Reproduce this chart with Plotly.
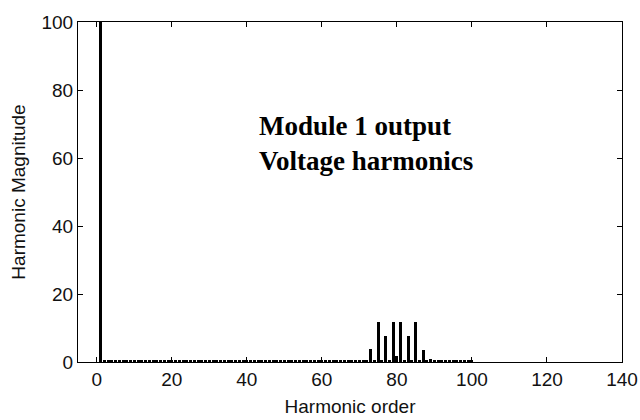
import plotly.graph_objects as go

# Harmonic orders 1..100
harmonic_order = list(range(1, 101))

# Magnitudes (% of fundamental)
magnitude = [
    100.0, 0.4, 0.3, 0.4, 0.3, 0.4, 0.4, 0.3, 0.4, 0.3,   # 1-10
    0.4, 0.3, 0.4, 0.4, 0.3, 0.4, 0.3, 0.4, 0.3, 0.4,     # 11-20
    0.3, 0.4, 0.4, 0.3, 0.4, 0.3, 0.4, 0.3, 0.4, 0.4,     # 21-30
    0.3, 0.4, 0.3, 0.4, 0.3, 0.4, 0.4, 0.3, 0.4, 0.3,     # 31-40
    0.4, 0.3, 0.4, 0.4, 0.3, 0.4, 0.3, 0.4, 0.3, 0.4,     # 41-50
    0.3, 0.4, 0.4, 0.3, 0.4, 0.3, 0.4, 0.3, 0.4, 0.4,     # 51-60
    0.3, 0.4, 0.3, 0.4, 0.3, 0.4, 0.4, 0.3, 0.4, 0.3,     # 61-70
    0.5, 0.4, 3.9, 0.4, 11.7, 0.4, 7.6, 0.4, 11.7, 1.8,   # 71-80
    11.7, 0.4, 7.6, 0.4, 11.7, 0.4, 3.5, 0.4, 1.0, 0.4,   # 81-90
    0.3, 0.4, 0.3, 0.4, 0.3, 0.4, 0.4, 0.3, 0.4, 0.3,     # 91-100
]

x_ticks = [0, 20, 40, 60, 80, 100, 120, 140]
y_ticks = [0, 20, 40, 60, 80, 100]

fig = go.Figure()
fig.add_trace(go.Bar(
    x=harmonic_order, y=magnitude, width=0.8,
    marker=dict(color="black", line=dict(width=0)),
    showlegend=False,
))

sans = "Liberation Sans, Arial, sans-serif"
tick_font = dict(family=sans, size=19, color="#111")
axis_common = dict(
    showline=True, linecolor="black", linewidth=1, mirror="ticks",
    ticks="inside", ticklen=5, tickcolor="black", tickwidth=1,
    showgrid=False, zeroline=False, tickfont=tick_font, automargin=False,
)

fig.update_layout(
    width=640, height=420,
    margin=dict(l=78, r=18, t=22, b=58),
    paper_bgcolor="white", plot_bgcolor="white",
    bargap=0,
    xaxis=dict(range=[-5, 140], tickvals=x_ticks, **axis_common,
               title=dict(text="Harmonic order", standoff=10,
                          font=dict(family=sans, size=19, color="#111"))),
    yaxis=dict(range=[0, 100], tickvals=y_ticks, **axis_common,
               title=dict(text="Harmonic Magnitude", standoff=10,
                          font=dict(family=sans, size=19, color="#111"))),
    annotations=[dict(
        text="<b>Module 1 output<br>Voltage harmonics</b>",
        xref="x", yref="y", x=42.6, y=74.5, xanchor="left", yanchor="top",
        align="left", showarrow=False,
        font=dict(family="Liberation Serif, Times New Roman, serif", size=27, color="black"),
    )],
)

fig.write_html("out.html")
